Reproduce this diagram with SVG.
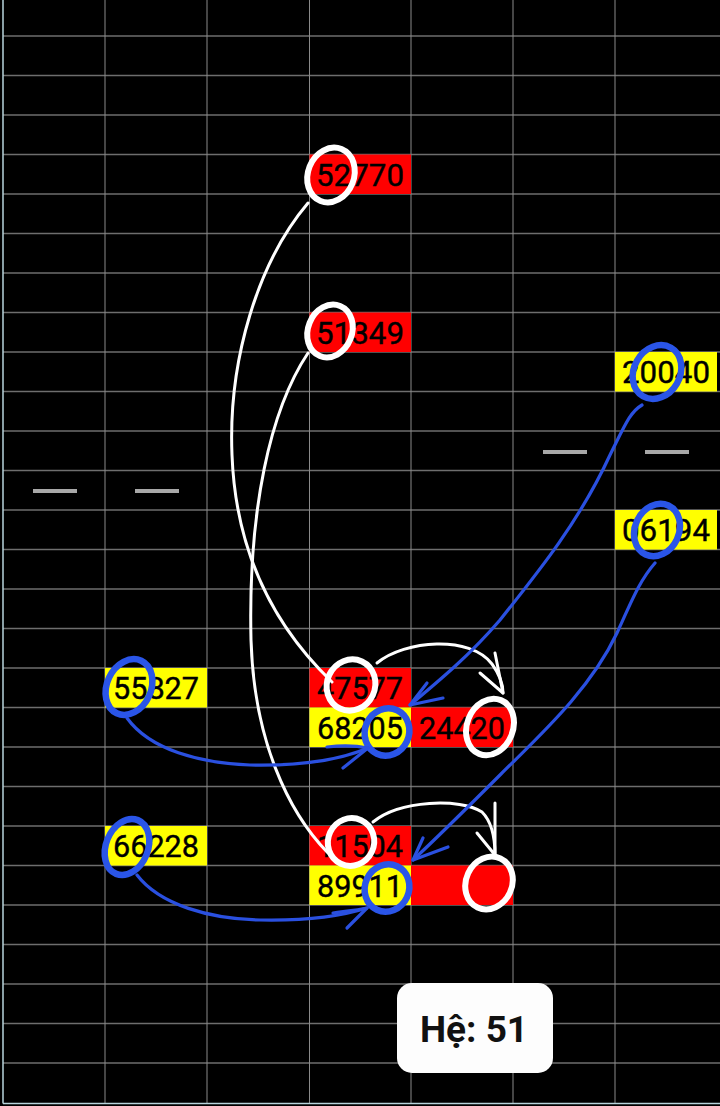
<svg xmlns="http://www.w3.org/2000/svg" width="720" height="1106" viewBox="0 0 720 1106">
<style>
.bg{fill:#000}
.gh{stroke:#6e6e6e;stroke-width:1.5}
.gv{stroke:#8a8a8a;stroke-width:1}
.red{fill:#ff0000}
.yel{fill:#ffff00}
.num{font-family:Roboto,"Liberation Sans",sans-serif;font-size:31px;font-weight:400;fill:#000;stroke:#000;stroke-width:0.4;text-anchor:middle}
.dash{fill:#a8a8a8}
.wc{fill:none;stroke:#fff;stroke-width:6}
.bc{fill:none;stroke:#2a55e8;stroke-width:6.5}
.wl{fill:none;stroke:#fff;stroke-width:3;stroke-linecap:round;stroke-linejoin:round}
.bl{fill:none;stroke:#2a50e0;stroke-width:3.2;stroke-linecap:round;stroke-linejoin:round}
.lbl{font-family:Roboto,"Liberation Sans",sans-serif;font-size:37px;font-weight:bold;fill:#111;text-anchor:middle}
</style>
<rect class="bg" x="0" y="0" width="720" height="1106"/>
<g id="grid">
<line class="gh" x1="3" y1="36" x2="720" y2="36"/>
<line class="gh" x1="3" y1="75.5" x2="720" y2="75.5"/>
<line class="gh" x1="3" y1="115" x2="720" y2="115"/>
<line class="gh" x1="3" y1="154.5" x2="720" y2="154.5"/>
<line class="gh" x1="3" y1="194" x2="720" y2="194"/>
<line class="gh" x1="3" y1="233.5" x2="720" y2="233.5"/>
<line class="gh" x1="3" y1="273" x2="720" y2="273"/>
<line class="gh" x1="3" y1="312.5" x2="720" y2="312.5"/>
<line class="gh" x1="3" y1="352" x2="720" y2="352"/>
<line class="gh" x1="3" y1="391.5" x2="720" y2="391.5"/>
<line class="gh" x1="3" y1="431" x2="720" y2="431"/>
<line class="gh" x1="3" y1="470.5" x2="720" y2="470.5"/>
<line class="gh" x1="3" y1="510" x2="720" y2="510"/>
<line class="gh" x1="3" y1="549.5" x2="720" y2="549.5"/>
<line class="gh" x1="3" y1="589" x2="720" y2="589"/>
<line class="gh" x1="3" y1="628.5" x2="720" y2="628.5"/>
<line class="gh" x1="3" y1="668" x2="720" y2="668"/>
<line class="gh" x1="3" y1="707.5" x2="720" y2="707.5"/>
<line class="gh" x1="3" y1="747" x2="720" y2="747"/>
<line class="gh" x1="3" y1="786.5" x2="720" y2="786.5"/>
<line class="gh" x1="3" y1="826" x2="720" y2="826"/>
<line class="gh" x1="3" y1="865.5" x2="720" y2="865.5"/>
<line class="gh" x1="3" y1="905" x2="720" y2="905"/>
<line class="gh" x1="3" y1="944.5" x2="720" y2="944.5"/>
<line class="gh" x1="3" y1="984" x2="720" y2="984"/>
<line class="gh" x1="3" y1="1023.5" x2="720" y2="1023.5"/>
<line class="gh" x1="3" y1="1063" x2="720" y2="1063"/>
<line class="gv" x1="105" y1="0" x2="105" y2="1103"/>
<line class="gv" x1="207" y1="0" x2="207" y2="1103"/>
<line class="gv" x1="309.5" y1="0" x2="309.5" y2="1103"/>
<line class="gv" x1="411" y1="0" x2="411" y2="1103"/>
<line class="gv" x1="513" y1="0" x2="513" y2="1103"/>
<line class="gv" x1="615" y1="0" x2="615" y2="1103"/>
<line x1="3" y1="0" x2="3" y2="1103.5" stroke="#b8d4dc" stroke-width="1.5"/>
<line x1="3" y1="1103.5" x2="720" y2="1103.5" stroke="#b8d4dc" stroke-width="1.5"/>
<rect class="dash" x="33" y="489" width="44" height="4"/>
<rect class="dash" x="135" y="489" width="44" height="4"/>
<rect class="dash" x="543" y="450" width="44" height="4"/>
<rect class="dash" x="645" y="450" width="44" height="4"/>
</g>
<g id="n52770"><rect class="red" x="309.5" y="154.5" width="101.5" height="39.5"/><text class="num" x="360" y="185.5" textLength="88" lengthAdjust="spacingAndGlyphs">52770</text></g>
<g id="n51349"><rect class="red" x="309.5" y="312.5" width="101.5" height="39.5"/><text class="num" x="360" y="343.5" textLength="88" lengthAdjust="spacingAndGlyphs">51349</text></g>
<g id="n20040"><rect class="yel" x="615" y="352" width="102" height="39.5"/><text class="num" x="666" y="383" textLength="88" lengthAdjust="spacingAndGlyphs">20040</text></g>
<g id="n06194"><rect class="yel" x="615" y="510" width="102" height="39.5"/><text class="num" x="666" y="541" textLength="88" lengthAdjust="spacingAndGlyphs">06194</text></g>
<g id="n55827"><rect class="yel" x="105" y="668" width="102" height="39.5"/><text class="num" x="156" y="698.5" textLength="86" lengthAdjust="spacingAndGlyphs">55827</text></g>
<g id="n47577"><rect class="red" x="309.5" y="668" width="101.5" height="39.5"/><text class="num" x="360" y="698.5" textLength="86" lengthAdjust="spacingAndGlyphs">47577</text></g>
<g id="n68205"><rect class="yel" x="309.5" y="707.5" width="101.5" height="39.5"/><text class="num" x="360" y="738.5" textLength="86" lengthAdjust="spacingAndGlyphs">68205</text></g>
<g id="n24420"><rect class="red" x="411" y="707.5" width="102" height="39.5"/><text class="num" x="462" y="738.5" textLength="86" lengthAdjust="spacingAndGlyphs">24420</text></g>
<g id="n66228"><rect class="yel" x="105" y="826" width="102" height="39.5"/><text class="num" x="156" y="857" textLength="86" lengthAdjust="spacingAndGlyphs">66228</text></g>
<g id="n11504"><rect class="red" x="309.5" y="826" width="101.5" height="39.5"/><text class="num" x="360" y="857" textLength="86" lengthAdjust="spacingAndGlyphs">11504</text></g>
<g id="n89911"><rect class="yel" x="309.5" y="865.5" width="101.5" height="39.5"/><text class="num" x="360" y="896.5" textLength="86" lengthAdjust="spacingAndGlyphs">89911</text></g>
<g id="nempty"><rect class="red" x="411" y="865.5" width="102" height="39.5"/></g>
<g id="marks">
<ellipse class="wc" cx="331" cy="175" rx="23" ry="28" transform="rotate(22 331 175)"/>
<ellipse class="wc" cx="330" cy="331" rx="22" ry="27" transform="rotate(22 330 331)"/>
<ellipse class="wc" cx="351" cy="685" rx="24" ry="26" transform="rotate(25 351 685)"/>
<ellipse class="wc" cx="490" cy="727" rx="23" ry="29" transform="rotate(22 490 727)"/>
<ellipse class="wc" cx="351" cy="842" rx="23" ry="24" transform="rotate(25 351 842)"/>
<ellipse class="wc" cx="489" cy="883" rx="23" ry="27" transform="rotate(25 489 883)"/>
<ellipse class="bc" cx="129" cy="687" rx="22" ry="29" transform="rotate(25 129 687)"/>
<ellipse class="bc" cx="387" cy="732" rx="22" ry="24" transform="rotate(25 387 732)"/>
<ellipse class="bc" cx="127" cy="847" rx="21" ry="29" transform="rotate(22 127 847)"/>
<ellipse class="bc" cx="387" cy="888" rx="22" ry="24" transform="rotate(25 387 888)"/>
<ellipse class="bc" cx="657" cy="372" rx="23" ry="28" transform="rotate(30 657 372)"/>
<ellipse class="bc" cx="657" cy="530" rx="22" ry="27" transform="rotate(25 657 530)"/>
</g>
<g id="connectors">
<path class="wl" d="M308,203 C258,262 228,360 232,455 C236,560 280,632 332,682"/>
<path class="wl" d="M308,353 C270,410 248,510 251,640 C254,740 288,812 328,853"/>
<path class="wl" d="M377,663 C405,640 470,635 492,664 C500,675 503,684 503,693"/>
<path class="wl" d="M495,653 L503,693 L480,673"/>
<path class="wl" d="M373,822 C400,800 460,798 482,812 C492,822 495,840 495,855"/>
<path class="wl" d="M495,803 L495,855 L477,833"/>
<path class="bl" d="M642,405 C630,412 625,425 610,455 C580,520 540,570 500,620 C470,655 440,680 410,705"/>
<path class="bl" d="M427,683 L410,705 L443,698"/>
<path class="bl" d="M655,563 C640,580 632,600 617,633 C590,690 540,735 500,775 C470,805 440,835 413,860"/>
<path class="bl" d="M423,838 L413,860 L448,847"/>
<path class="bl" d="M127,718 C150,750 200,763 250,765 C300,766 340,760 368,748"/>
<path class="bl" d="M327,747 C345,745 358,746 368,748 L343,768"/>
<path class="bl" d="M137,875 C160,905 210,919 260,920 C310,921 345,915 367,908"/>
<path class="bl" d="M333,913 C348,911 358,910 367,908 L347,928"/>
</g>
<g id="label">
<rect x="397" y="983" width="156" height="90" rx="15" ry="15" fill="#fdfdfd"/>
<text class="lbl" x="474" y="1042">Hệ: 51</text>
</g>
</svg>
